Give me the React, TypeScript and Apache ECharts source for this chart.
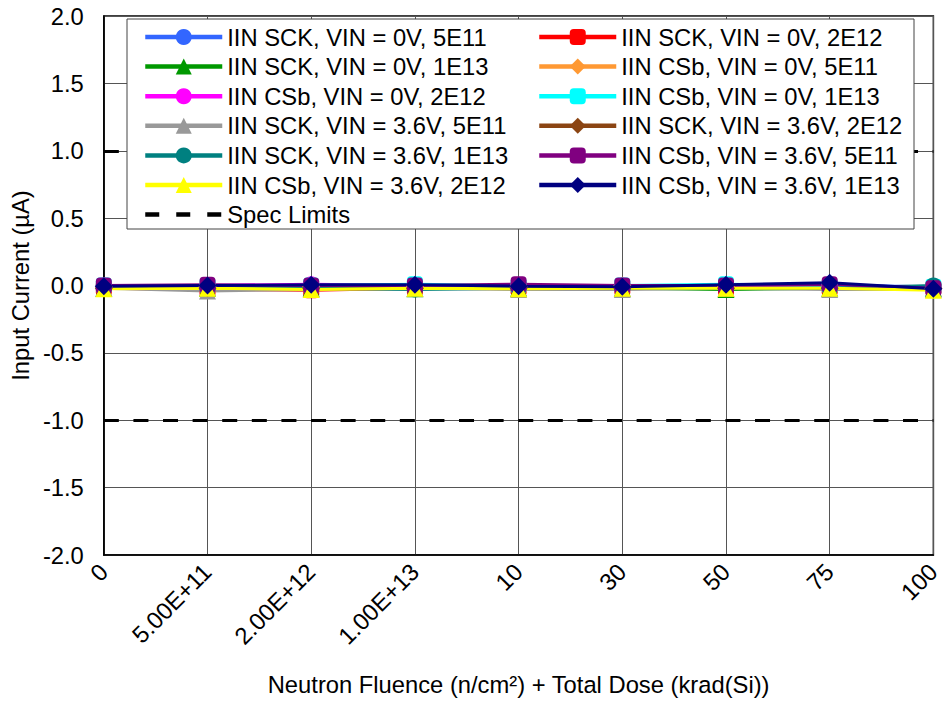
import React, { useEffect, useRef } from "react";
import * as echarts from "echarts";

const categories = ["0", "5.00E+11", "2.00E+12", "1.00E+13", "10", "30", "50", "75", "100"];

const seriesNames = [
  "IIN SCK, VIN = 0V, 5E11",
  "IIN SCK, VIN = 0V, 2E12",
  "IIN SCK, VIN = 0V, 1E13",
  "IIN CSb, VIN = 0V, 5E11",
  "IIN CSb, VIN = 0V, 2E12",
  "IIN CSb, VIN = 0V, 1E13",
  "IIN SCK, VIN = 3.6V, 5E11",
  "IIN SCK, VIN = 3.6V, 2E12",
  "IIN SCK, VIN = 3.6V, 1E13",
  "IIN CSb, VIN = 3.6V, 5E11",
  "IIN CSb, VIN = 3.6V, 2E12",
  "IIN CSb, VIN = 3.6V, 1E13",
];

const sckVin0_5E11 = [-0.01, -0.02, -0.01, -0.01, -0.01, -0.01, -0.01, -0.01, -0.02];
const sckVin0_2E12 = [-0.02, -0.03, -0.035, -0.02, -0.02, -0.02, -0.02, -0.02, -0.02];
const sckVin0_1E13 = [-0.02, -0.02, -0.02, -0.025, -0.02, -0.02, -0.03, -0.02, -0.02];
const csbVin0_5E11 = [-0.01, -0.01, -0.01, -0.01, -0.01, 0.0, -0.01, -0.01, -0.02];
const csbVin0_2E12 = [0.0, 0.0, 0.01, 0.0, 0.0, 0.0, 0.0, 0.0, -0.01];
const csbVin0_1E13 = [0.0, 0.0, 0.0, 0.01, 0.0, 0.0, 0.01, 0.0, -0.01];
const sckVin36_5E11 = [-0.02, -0.04, -0.03, -0.02, -0.03, -0.03, -0.02, -0.03, -0.03];
const sckVin36_2E12 = [-0.02, -0.02, -0.02, -0.02, -0.02, -0.02, -0.02, -0.02, -0.02];
const sckVin36_1E13 = [-0.02, -0.02, -0.02, -0.03, -0.02, -0.02, -0.02, -0.02, 0.0];
const csbVin36_5E11 = [0.0, 0.005, 0.0, 0.0, 0.01, 0.0, 0.0, 0.01, -0.02];
const csbVin36_2E12 = [-0.025, -0.02, -0.03, -0.02, -0.025, -0.02, -0.02, -0.02, -0.035];
const csbVin36_1E13 = [-0.005, 0.0, 0.005, 0.006, -0.005, -0.01, 0.006, 0.02, -0.024];

const specLimits = [1, -1];

const seriesValues = [
  sckVin0_5E11, sckVin0_2E12, sckVin0_1E13,
  csbVin0_5E11, csbVin0_2E12, csbVin0_1E13,
  sckVin36_5E11, sckVin36_2E12, sckVin36_1E13,
  csbVin36_5E11, csbVin36_2E12, csbVin36_1E13,
];

const colors = [
  "#3366FF", "#FF0000", "#009900",
  "#FF9933", "#FF00FF", "#00FFFF",
  "#999999", "#8B4513", "#008080",
  "#800080", "#FFFF00", "#000080",
];

const symbols = [
  "circle", "roundRect", "triangle",
  "diamond", "circle", "roundRect",
  "triangle", "diamond", "circle",
  "roundRect", "triangle", "diamond",
];

const symbolSizes: Record<string, number> = { circle: 16, roundRect: 16, triangle: 17, diamond: 18 };

const FONT = "'Liberation Sans', Arial, sans-serif";
const FS = 23.75;

export default function App() {
  const ref = useRef<HTMLDivElement>(null);

  useEffect(() => {
    if (!ref.current) return;
    const chart = echarts.init(ref.current, null, { renderer: "svg" });

    const dataSeries = seriesNames.map((name, i) => ({
      name,
      type: "line",
      data: seriesValues[i],
      symbol: symbols[i],
      symbolSize: symbolSizes[symbols[i]],
      showAllSymbol: true,
      lineStyle: { color: colors[i], width: 3 },
      itemStyle: { color: colors[i] },
      z: 2,
    }));

    const specSeries = {
      name: "Spec Limits",
      type: "line",
      data: [],
      symbol: "none",
      lineStyle: { color: "#000", width: 3, type: [14, 17] },
      itemStyle: { color: "#000" },
      markLine: {
        silent: true,
        symbol: "none",
        z: 1,
        label: { show: false },
        lineStyle: { color: "#000", width: 3, type: [15, 14.6] },
        data: specLimits.map((v) => ({ yAxis: v })),
      },
      z: 1,
    };

    const legendCommon = {
      orient: "vertical",
      padding: 0,
      itemWidth: 77,
      itemHeight: 20,
      itemGap: 5.6,
      selectedMode: false,
      lineStyle: { width: 4.5 },
      textStyle: { fontFamily: FONT, fontSize: FS, lineHeight: 24, color: "#000" },
      z: 5,
    };

    const leftNames: any[] = seriesNames.filter((_, i) => i % 2 === 0);
    const rightNames = seriesNames.filter((_, i) => i % 2 === 1);

    const option = {
      animation: false,
      backgroundColor: "#fff",
      grid: {
        left: 101,
        right: 5,
        top: 16,
        bottom: 147,
        show: true,
        borderColor: "#000",
        borderWidth: 1.5,
        backgroundColor: "transparent",
      },
      legend: [
        {
          ...legendCommon,
          left: 143,
          top: 25,
          data: [...leftNames, { name: "Spec Limits", itemStyle: { opacity: 0 } }],
        },
        { ...legendCommon, left: 537, top: 25, data: rightNames },
      ],
      graphic: [
        {
          type: "rect",
          z: 3,
          shape: { x: 127, y: 19, width: 787, height: 210 },
          style: { fill: "#fff", stroke: "#444", lineWidth: 1 },
        },
      ],
      xAxis: {
        type: "category",
        data: categories,
        boundaryGap: false,
        name: "Neutron Fluence (n/cm²) + Total Dose (krad(Si))",
        nameLocation: "middle",
        nameGap: 117,
        nameTextStyle: { fontFamily: FONT, fontSize: FS, color: "#000" },
        axisLine: { show: true, onZero: false, lineStyle: { color: "#000", width: 1.5 } },
        axisTick: { show: false },
        axisLabel: {
          rotate: 45,
          margin: 13,
          interval: 0,
          fontFamily: FONT,
          fontSize: FS,
          color: "#000",
        },
        splitLine: { show: true, lineStyle: { color: "#555", width: 1 } },
      },
      yAxis: {
        type: "value",
        min: -2,
        max: 2,
        interval: 0.5,
        name: "Input Current (µA)",
        nameLocation: "middle",
        nameGap: 68,
        nameTextStyle: { fontFamily: FONT, fontSize: FS, color: "#000" },
        axisLine: { show: true, lineStyle: { color: "#000", width: 1.5 } },
        axisTick: { show: false },
        axisLabel: {
          margin: 20,
          fontFamily: FONT,
          fontSize: FS,
          color: "#000",
          formatter: (v: number) => v.toFixed(1),
        },
        splitLine: { show: true, lineStyle: { color: "#555", width: 1 } },
      },
      series: [specSeries, ...dataSeries],
    };

    chart.setOption(option as any);
    return () => chart.dispose();
  }, []);

  return (
    <div
      ref={ref}
      style={{ position: "fixed", left: 0, top: 0, width: 944, height: 702 }}
    />
  );
}
